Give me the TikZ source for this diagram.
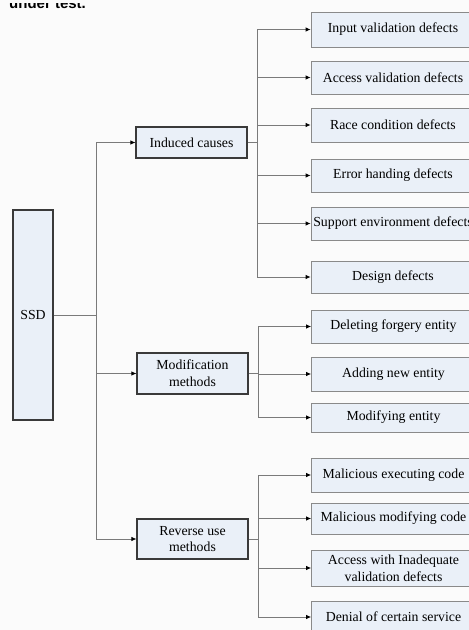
\documentclass[tikz,border=0pt]{standalone}
\usepackage{fontspec}
\setmainfont{Liberation Serif}
\newfontfamily\headfont{Liberation Sans}
\usetikzlibrary{arrows.meta}
\definecolor{pagebg}{HTML}{FBFBFB}
\definecolor{boxfill}{HTML}{EAF0F8}
\definecolor{darkedge}{HTML}{3A3A3A}
\definecolor{lightedge}{HTML}{8A8A8A}
\definecolor{wire}{HTML}{7A7A7A}
\tikzset{
  mainbox/.style={draw=darkedge, line width=1.1pt, fill=boxfill, align=center,
    font=\fontsize{13.8}{16.8}\selectfont, inner sep=0pt},
  leafbox/.style={draw=lightedge, line width=0.8pt, fill=boxfill, align=center,
    font=\fontsize{13.8}{16.8}\selectfont, minimum width=164pt, inner sep=0pt},
  wireline/.style={draw=wire, line width=0.8pt},
  arr/.style={wireline, -{Latex[length=5pt,width=4.5pt,color=black]}}
}
\begin{document}
\begin{tikzpicture}[x=1pt,y=-1pt]
  \useasboundingbox (0,0) rectangle (469,630);
  \fill[pagebg] (0,0) rectangle (469,630);
  \begin{scope}
    \clip (0,0) rectangle (469,630);
    % caption line running in from the page above, only its lower part shows
    \begin{scope}
      \clip (0,3) rectangle (120,20);
      \node[anchor=base west, inner sep=0pt, font=\headfont\bfseries\fontsize{15}{18}\selectfont]
        (cap) at (9,8.5) {under test.};
    \end{scope}

    % root
    \node[mainbox, minimum width=40pt, minimum height=210pt] (ssd) at (33,315) {SSD};

    % second level
    \node[mainbox, minimum width=111pt, minimum height=31pt] (ic) at (191.5,142.5) {Induced causes};
    \node[mainbox, minimum width=111pt, minimum height=41pt] (mm) at (192.5,373.5) {Modification\\methods};
    \node[mainbox, minimum width=111pt, minimum height=40pt] (ru) at (192.5,539) {Reverse use\\methods};

    % induced causes
    \node[leafbox, minimum height=35pt] (i1) at (393,29.5) {Input validation defects};
    \node[leafbox, minimum height=33pt] (i2) at (393,77.5) {Access validation defects};
    \node[leafbox, minimum height=34pt] (i3) at (393,125) {Race condition defects};
    \node[leafbox, minimum height=33pt] (i4) at (393,175.5) {Error handing defects};
    \node[leafbox, minimum height=33pt] (i5) at (393,223.5) {Support environment defects};
    \node[leafbox, minimum height=32pt] (i6) at (393,277) {Design defects};

    % modification methods
    \node[leafbox, minimum height=33pt] (m1) at (393.5,326.5) {Deleting forgery entity};
    \node[leafbox, minimum height=34pt] (m2) at (393.5,374) {Adding new entity};
    \node[leafbox, minimum height=29pt] (m3) at (393.5,417.5) {Modifying entity};

    % reverse use methods
    \node[leafbox, minimum height=34pt] (r1) at (393.5,475) {Malicious executing code};
    \node[leafbox, minimum height=31pt] (r2) at (393.5,518.5) {Malicious modifying code};
    \node[leafbox, minimum height=36pt] (r3) at (393.5,568) {Access with Inadequate\\validation defects};
    \node[leafbox, minimum height=32pt] (r4) at (393.5,617) {Denial of certain service};

    % trunk and branch columns
    \coordinate (tk) at (96,0);
    \coordinate (bi) at (257,0);
    \coordinate (bm) at (258,0);

    \draw[wireline] (ssd.east) -- (ssd.east -| tk);
    \draw[wireline] (ic.west -| tk) -- (ru.west -| tk);
    \draw[arr] (ic.west -| tk) -- (ic.west);
    \draw[arr] (mm.west -| tk) -- (mm.west);
    \draw[arr] (ru.west -| tk) -- (ru.west);

    \draw[wireline] (ic.east) -- (ic.east -| bi);
    \draw[wireline] (i1.west -| bi) -- (i6.west -| bi);
    \foreach \n in {i1,i2,i3,i4,i5,i6}
      \draw[arr] (\n.west -| bi) -- (\n.west);

    \draw[wireline] (mm.east) -- (mm.east -| bm);
    \draw[wireline] (m1.west -| bm) -- (m3.west -| bm);
    \foreach \n in {m1,m2,m3}
      \draw[arr] (\n.west -| bm) -- (\n.west);

    \draw[wireline] (ru.east) -- (ru.east -| bm);
    \draw[wireline] (r1.west -| bm) -- (r4.west -| bm);
    \foreach \n in {r1,r2,r3,r4}
      \draw[arr] (\n.west -| bm) -- (\n.west);
  \end{scope}
\end{tikzpicture}
\end{document}
